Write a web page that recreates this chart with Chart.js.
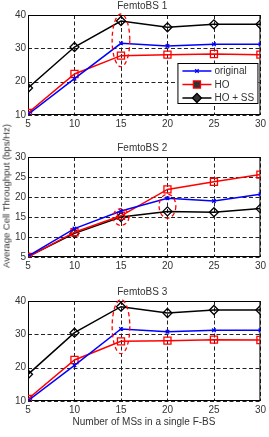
<!DOCTYPE html>
<html>
<head>
<meta charset="utf-8">
<script src="https://cdn.jsdelivr.net/npm/chart.js@4.4.0/dist/chart.umd.min.js"></script>
<style>
  html, body { margin: 0; padding: 0; background: #fff; }
  #wrap { position: relative; width: 269px; height: 437px; overflow: hidden; font-family: 'Liberation Sans', Arial, sans-serif; }
  #wrap canvas { position: absolute; left: 0; }
  .ylab { position: absolute; left: 6px; top: 196px; transform: translate(-50%, -50%) rotate(-90deg); white-space: nowrap; font-size: 9.5px; color: #333; }
  .xlab { position: absolute; left: 144px; top: 421px; transform: translate(-50%, -50%); white-space: nowrap; font-size: 10px; color: #333; }
</style>
</head>
<body>
<div id="wrap">
  <canvas id="c1" width="269" height="132" style="top:0px"></canvas>
  <canvas id="c2" width="269" height="132" style="top:142px"></canvas>
  <canvas id="c3" width="269" height="132" style="top:286px"></canvas>
  <div class="ylab">Average Cell Throughput (bps/Hz)</div>
  <div class="xlab">Number of MSs in a single F-BS</div>
</div>
<script>
// number of MSs (x axis)
const msCounts = [5, 10, 15, 20, 25, 30];
const seriesNames = ['original', 'HO', 'HO + SS'];

// FemtoBS 1
const bs1Original = [10.2, 20.9, 31.5, 30.7, 31.2, 31.2];
const bs1HO = [10.6, 22.3, 27.8, 28.1, 28.3, 28.1];
const bs1HOSS = [18.1, 30.4, 38.2, 36.3, 37.2, 37.2];

// FemtoBS 2
const bs2Original = [5.2, 12.1, 16.5, 19.7, 19.0, 20.7];
const bs2HO = [5.0, 11.2, 15.3, 21.9, 23.8, 25.6];
const bs2HOSS = [5.1, 10.9, 15.0, 16.4, 16.2, 17.1];

// FemtoBS 3
const bs3Original = [10.1, 20.7, 31.6, 30.8, 31.2, 31.2];
const bs3HO = [10.6, 22.3, 27.9, 28.1, 28.4, 28.3];
const bs3HOSS = [18.0, 30.5, 38.3, 36.4, 37.3, 37.3];

// y ranges / tick steps per subplot
const bs1Range = [10, 40, 10];
const bs2Range = [5, 30, 5];
const bs3Range = [10, 40, 10];

// red dashed ellipses: [x, yLow, yHigh, halfWidth] in data units
const bs1Marks = [[15, 24.5, 40.3, 0.95]];
const bs2Marks = [[15, 12.9, 17.1, 0.85], [20, 14.7, 20.7, 0.9]];
const bs3Marks = [[15, 24.2, 40.4, 0.95]];

Chart.defaults.font.family = "'Liberation Sans', Arial, sans-serif";
Chart.defaults.font.size = 10;
Chart.defaults.color = '#333';

const styles = [
  { color: '#0000ff', pointStyle: 'crossRot', radius: 2.5 },
  { color: '#ff0000', pointStyle: 'rect', radius: 5 },
  { color: '#000000', pointStyle: 'rectRot', radius: 4.5 }
];

function makeDatasets(values) {
  return values.map((vals, i) => ({
    label: seriesNames[i],
    data: vals.map((v, j) => ({ x: msCounts[j], y: v })),
    borderColor: styles[i].color,
    backgroundColor: 'rgba(0,0,0,0)',
    borderWidth: 1.5,
    pointStyle: styles[i].pointStyle,
    pointRadius: styles[i].radius,
    pointBorderColor: styles[i].color,
    pointBorderWidth: 1.3,
    pointBackgroundColor: 'rgba(0,0,0,0)',
    tension: 0
  }));
}

// dashed grid + solid axes box, drawn under the lines
const framePlugin = {
  id: 'frame',
  beforeDatasetsDraw(chart) {
    const a = chart.chartArea;
    const ctx = chart.ctx;
    const xs = chart.scales.x;
    const ys = chart.scales.y;
    ctx.save();
    ctx.strokeStyle = '#222';
    ctx.lineWidth = 1;
    ctx.setLineDash([4, 2.5]);
    xs.ticks.forEach(t => {
      const px = Math.round(xs.getPixelForValue(t.value)) + 0.5;
      ctx.beginPath();
      ctx.moveTo(px, a.top);
      ctx.lineTo(px, a.bottom);
      ctx.stroke();
    });
    ys.ticks.forEach(t => {
      const py = Math.round(ys.getPixelForValue(t.value)) + 0.5;
      ctx.beginPath();
      ctx.moveTo(a.left, py);
      ctx.lineTo(a.right, py);
      ctx.stroke();
    });
    ctx.setLineDash([]);
    ctx.strokeStyle = '#000';
    ctx.strokeRect(a.left + 0.5, a.top + 0.5, a.right - a.left - 1, a.bottom - a.top - 1);
    ctx.restore();
  }
};

// subplot title
const titlePlugin = {
  id: 'subTitle',
  afterDraw(chart, args, opts) {
    const a = chart.chartArea;
    const ctx = chart.ctx;
    ctx.save();
    ctx.fillStyle = '#333';
    ctx.font = "10px 'Liberation Sans', Arial, sans-serif";
    ctx.textAlign = 'center';
    ctx.textBaseline = 'middle';
    ctx.fillText(opts.text, (a.left + a.right) / 2 - 2, a.top - 9);
    ctx.restore();
  }
};

// dashed red ellipses marking the points of interest
const ellipsePlugin = {
  id: 'ellipses',
  afterDraw(chart, args, opts) {
    const xs = chart.scales.x;
    const ys = chart.scales.y;
    const ctx = chart.ctx;
    ctx.save();
    ctx.strokeStyle = '#ff0000';
    ctx.lineWidth = 1.3;
    ctx.setLineDash([4, 3]);
    (opts.marks || []).forEach(([x, lo, hi, hw]) => {
      const cx = xs.getPixelForValue(x);
      const top = ys.getPixelForValue(hi);
      const bot = ys.getPixelForValue(lo);
      const rx = xs.getPixelForValue(x + hw) - cx;
      ctx.beginPath();
      ctx.ellipse(cx, (top + bot) / 2, rx, (bot - top) / 2, 0, 0, Math.PI * 2);
      ctx.stroke();
    });
    ctx.restore();
  }
};

// legend box inside the first plot
const legendPlugin = {
  id: 'boxLegend',
  afterDraw(chart, args, opts) {
    if (!opts.show) return;
    const ctx = chart.ctx;
    const a = chart.chartArea;
    const right = a.right - 2;
    const left = right - 81;
    const top = a.top + 48;
    const bottom = top + 41;
    ctx.save();
    ctx.fillStyle = '#fff';
    ctx.fillRect(left, top, right - left, bottom - top);
    ctx.strokeStyle = '#000';
    ctx.lineWidth = 1;
    ctx.strokeRect(left + 0.5, top + 0.5, right - left - 1, bottom - top - 1);
    chart.data.datasets.forEach((ds, i) => {
      const y = top + 8 + i * 13.5;
      const x0 = left + 5;
      const x1 = left + 34;
      ctx.strokeStyle = ds.borderColor;
      ctx.lineWidth = 1.5;
      ctx.beginPath();
      ctx.moveTo(x0, y);
      ctx.lineTo(x1, y);
      ctx.stroke();
      ctx.lineWidth = 1.3;
      Chart.helpers.drawPoint(ctx, {
        pointStyle: ds.pointStyle,
        radius: ds.pointRadius,
        rotation: 0,
        borderWidth: 1.3
      }, (x0 + x1) / 2, y);
      ctx.fillStyle = '#333';
      ctx.font = "10px 'Liberation Sans', Arial, sans-serif";
      ctx.textAlign = 'left';
      ctx.textBaseline = 'middle';
      ctx.fillText(ds.label, x1 + 3, y + 0.5);
    });
    ctx.restore();
  }
};

function makeChart(id, title, values, range, marks, showLegend) {
  const ctx = document.getElementById(id).getContext('2d');
  return new Chart(ctx, {
    type: 'line',
    data: { datasets: makeDatasets(values) },
    options: {
      responsive: false,
      animation: false,
      layout: { padding: { top: 15, right: 8, left: 0, bottom: 0 } },
      plugins: {
        legend: { display: false },
        tooltip: { enabled: false },
        subTitle: { text: title },
        ellipses: { marks },
        boxLegend: { show: showLegend }
      },
      scales: {
        x: {
          type: 'linear',
          min: msCounts[0],
          max: msCounts[msCounts.length - 1],
          grid: { display: false, drawTicks: false },
          border: { display: false },
          ticks: { stepSize: 5, padding: 3, color: '#333', maxRotation: 0 },
          afterFit(s) { s.height = 17; }
        },
        y: {
          min: range[0],
          max: range[1],
          grid: { display: false, drawTicks: false },
          border: { display: false },
          ticks: { stepSize: range[2], padding: 2, color: '#333' },
          afterFit(s) { s.width = 28; }
        }
      }
    },
    plugins: [framePlugin, titlePlugin, ellipsePlugin, legendPlugin]
  });
}

makeChart('c1', 'FemtoBS 1', [bs1Original, bs1HO, bs1HOSS], bs1Range, bs1Marks, true);
makeChart('c2', 'FemtoBS 2', [bs2Original, bs2HO, bs2HOSS], bs2Range, bs2Marks, false);
makeChart('c3', 'FemtoBS 3', [bs3Original, bs3HO, bs3HOSS], bs3Range, bs3Marks, false);
</script>
</body>
</html>
